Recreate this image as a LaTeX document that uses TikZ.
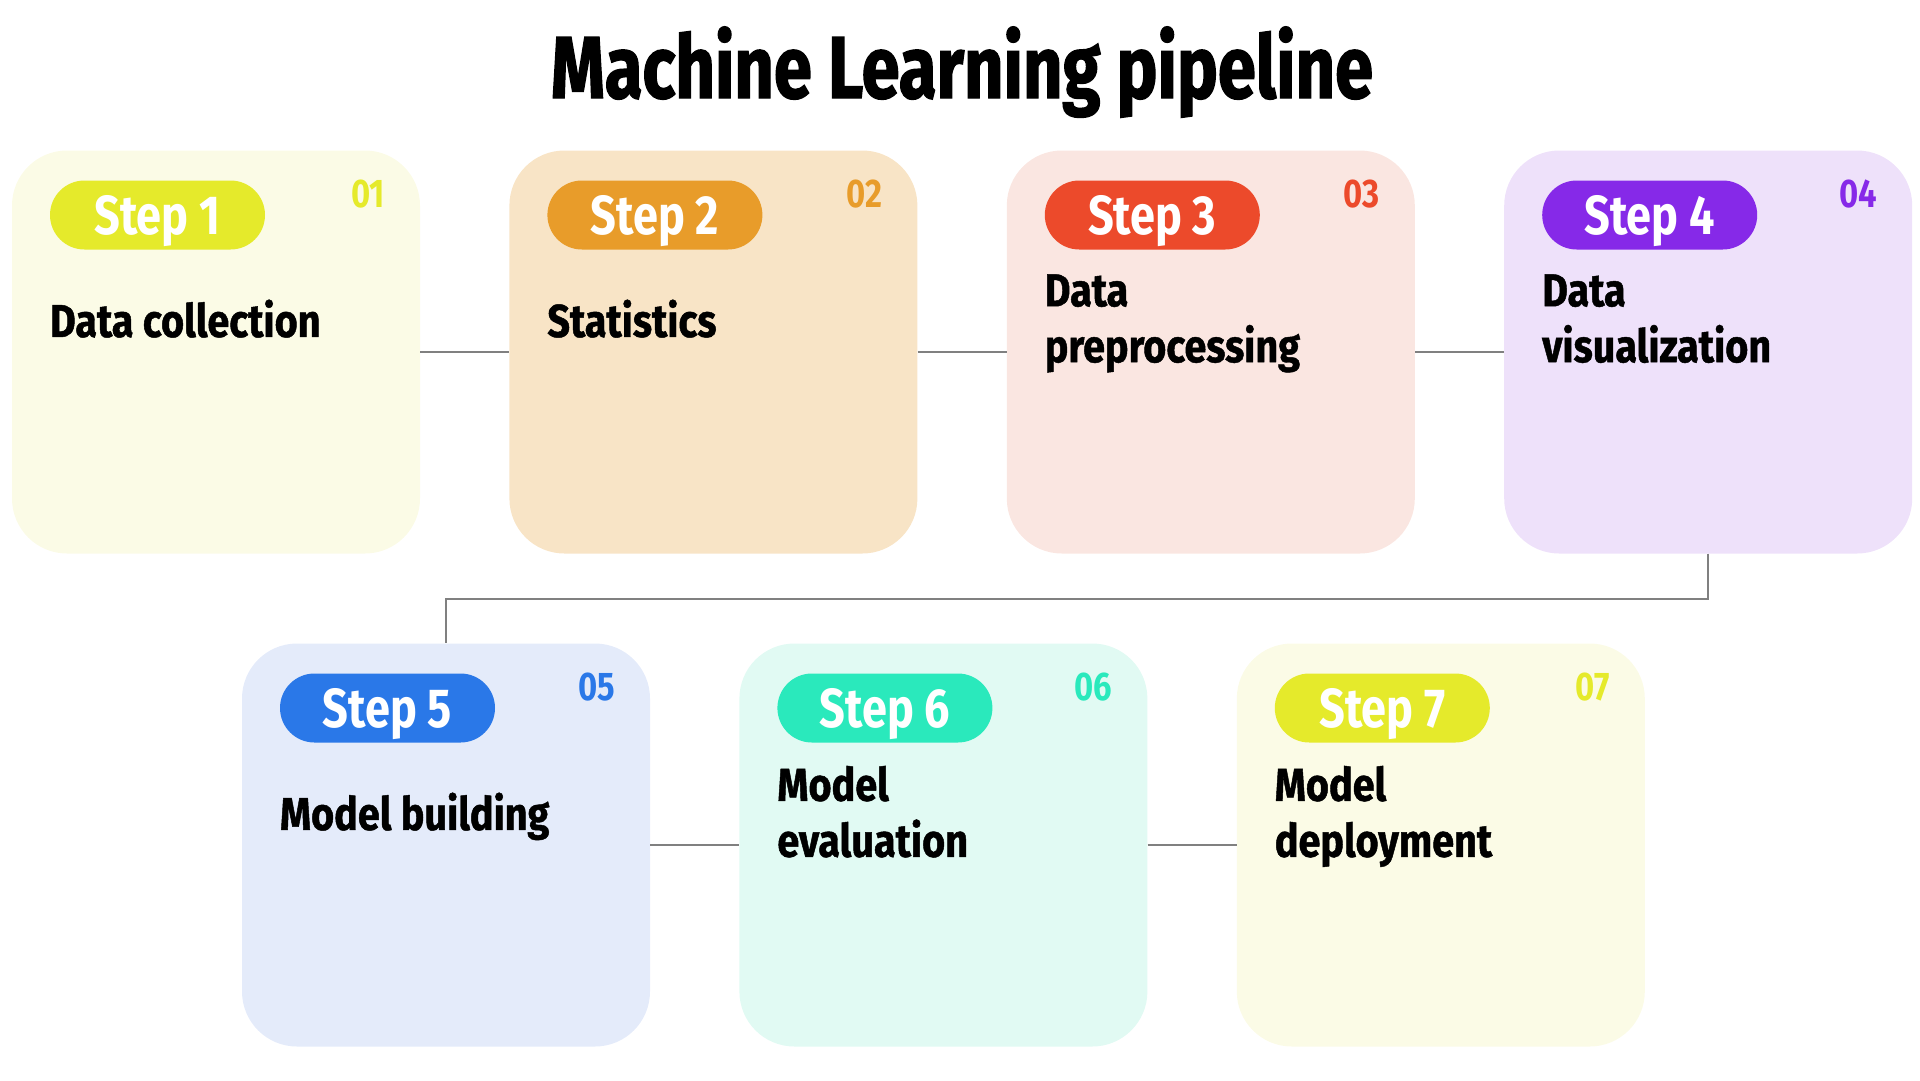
\documentclass[tikz,border=0pt]{standalone}
\usepackage{fontspec}
\setmainfont{Fira Sans}[FakeStretch=0.82]
\newfontfamily\titulofonte{Fira Sans}[FakeStretch=0.78, BoldFeatures={FakeBold=1.5}]
\newfontfamily\textofonte{Fira Sans}[FakeStretch=0.86, BoldFeatures={FakeBold=1}]
\usetikzlibrary{positioning,calc}

% cores das caixas e das etiquetas
\definecolor{fundo1}{HTML}{FBFBE6}
\definecolor{fundo2}{HTML}{F8E4C6}
\definecolor{fundo3}{HTML}{FAE6E1}
\definecolor{fundo4}{HTML}{EEE1FA}
\definecolor{fundo5}{HTML}{E4EBFA}
\definecolor{fundo6}{HTML}{E1FAF3}
\definecolor{fundo7}{HTML}{FBFBE6}
\definecolor{etiq1}{HTML}{E5EA2B}
\definecolor{etiq2}{HTML}{E89C2A}
\definecolor{etiq3}{HTML}{EC4A2B}
\definecolor{etiq4}{HTML}{8629E8}
\definecolor{etiq5}{HTML}{2A78E8}
\definecolor{etiq6}{HTML}{2AE9BC}
\definecolor{etiq7}{HTML}{E5EA2B}
\definecolor{cinzalinha}{HTML}{808080}

\def\largcaixa{408pt}
\def\altcaixa{403pt}
\def\espaco{89pt}

\begin{document}
\begin{tikzpicture}[x=1pt,y=1pt,
    caixa/.style={rectangle, rounded corners=55pt, minimum width=\largcaixa,
        minimum height=\altcaixa, inner sep=0pt},
    pilula/.style={rectangle, rounded corners=34.5pt, minimum width=215pt,
        minimum height=69pt, inner sep=0pt, text=white, text height=38pt,
        text depth=0pt, font=\fontsize{55}{60}\selectfont\bfseries},
    numero/.style={anchor=base east, inner sep=0pt,
        font=\fontsize{40}{42}\selectfont\bfseries},
    rotulo/.style={anchor=west, align=left, inner sep=0pt, text depth=0pt,
        font=\textofonte\fontsize{46}{56}\selectfont\bfseries},
    ligacao/.style={draw=cinzalinha, line width=2pt}]

\useasboundingbox (0,0) rectangle (1920,-1080);

%título
    \node[anchor=base, inner sep=0pt, font=\titulofonte\fontsize{88}{96}\selectfont\bfseries]
        (titulo) at (962,-98) {Machine Learning pipeline};

%caixas
    \node[caixa, fill=fundo1] (box1) at (216,-352) {};
    \node[caixa, fill=fundo2, right=\espaco of box1] (box2) {};
    \node[caixa, fill=fundo3, right=\espaco of box2] (box3) {};
    \node[caixa, fill=fundo4, right=\espaco of box3] (box4) {};

    \node[caixa, fill=fundo5] (box5) at (446,-845) {};
    \node[caixa, fill=fundo6, right=\espaco of box5] (box6) {};
    \node[caixa, fill=fundo7, right=\espaco of box6] (box7) {};

%ligações
    \coordinate (volta) at ($(box4.south)!0.5!(box5.north)$);
    \draw[ligacao] (box1.east) -- (box2.west);
    \draw[ligacao] (box2.east) -- (box3.west);
    \draw[ligacao] (box3.east) -- (box4.west);
    \draw[ligacao] (box4.south) |- (volta) -| (box5.north);
    \draw[ligacao] (box5.east) -- (box6.west);
    \draw[ligacao] (box6.east) -- (box7.west);

%etiquetas, números e textos
    \foreach \c/\num/\txt in {1/01/Data collection, 2/02/Statistics,
            3/03/{Data\\preprocessing}, 4/04/{Data\\visualization},
            5/05/Model building, 6/06/{Model\\evaluation},
            7/07/{Model\\deployment}}
    {
        \node[pilula, fill=etiq\c, anchor=north west] (pill\c)
            at ($(box\c.north west)+(38,-30)$) {Step \c};
        \node[numero, text=etiq\c] (num\c)
            at ($(box\c.north east)+(-35,-57)$) {\num};
        \node[rotulo] (txt\c)
            at ($(box\c.north west)+(38,-168)$) {\txt};
    }

\end{tikzpicture}
\end{document}
